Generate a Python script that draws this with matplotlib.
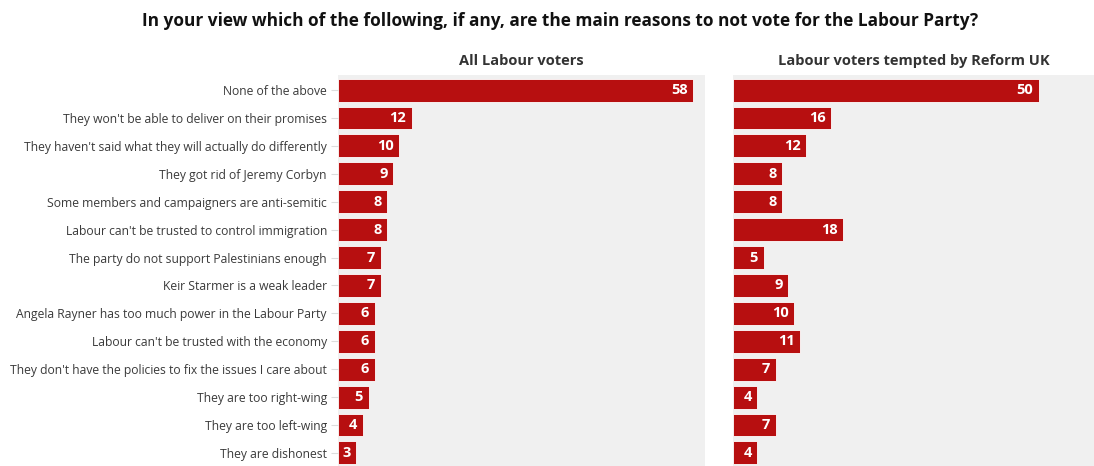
import matplotlib.pyplot as plt

reasons = [
    "None of the above",
    "They won't be able to deliver on their promises",
    "They haven't said what they will actually do differently",
    "They got rid of Jeremy Corbyn",
    "Some members and campaigners are anti-semitic",
    "Labour can't be trusted to control immigration",
    "The party do not support Palestinians enough",
    "Keir Starmer is a weak leader",
    "Angela Rayner has too much power in the Labour Party",
    "Labour can't be trusted with the economy",
    "They don't have the policies to fix the issues I care about",
    "They are too right-wing",
    "They are too left-wing",
    "They are dishonest",
]
all_labour = [58, 12, 10, 9, 8, 8, 7, 7, 6, 6, 6, 5, 4, 3]
tempted_reform = [50, 16, 12, 8, 8, 18, 5, 9, 10, 11, 7, 4, 7, 4]

panel_titles = ["All Labour voters", "Labour voters tempted by Reform UK"]

RED = "#b70f10"
BG = "#f0f0f0"

plt.rcParams["font.family"] = ["Open Sans", "DejaVu Sans"]

fig = plt.figure(figsize=(10.94, 4.66), dpi=100)
ax1 = fig.add_axes([338 / 1094, 0, 367 / 1094, 391 / 466])
ax2 = fig.add_axes([733 / 1094, 0, 361 / 1094, 391 / 466])


def draw_panel(ax, values, title, xmax, show_labels):
    ypos = range(len(values))
    ax.barh(ypos, values, height=0.82, color=RED, edgecolor="white", linewidth=0.6)
    for y, v in zip(ypos, values):
        ax.text(v - 0.9, y, str(v), ha="right", va="center", color="white",
                fontsize=10.5, fontweight="bold")
    ax.set_facecolor(BG)
    ax.set_xlim(0, xmax)
    ax.set_ylim(13.47, -0.54)
    ax.set_xticks([])
    ax.set_yticks(list(ypos))
    if show_labels:
        ax.set_yticklabels(reasons, fontsize=8.7, color="#3a3a3a")
        ax.tick_params(axis="y", length=5, color="#dddddd", pad=3)
    else:
        ax.set_yticklabels([])
        ax.tick_params(axis="y", length=0)
    for s in ax.spines.values():
        s.set_visible(False)
    ax.set_title(title, fontsize=10.5, fontweight="bold", color="#333333", pad=7)


draw_panel(ax1, all_labour, panel_titles[0], 59.9, True)
draw_panel(ax2, tempted_reform, panel_titles[1], 59.0, False)

fig.text(0.512, 0.955,
         "In your view which of the following, if any, are the main reasons to not vote for the Labour Party?",
         ha="center", va="center", fontsize=12.4, fontweight="bold", color="#111111")

fig.savefig("out.png", dpi=100, facecolor="white")
